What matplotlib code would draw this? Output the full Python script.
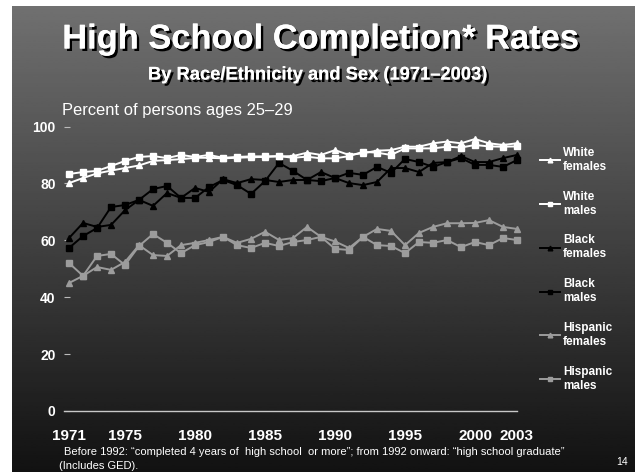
import matplotlib
matplotlib.use('Agg')
import matplotlib.pyplot as plt
import matplotlib.patheffects as pe
import numpy as np

plt.rcParams['font.family'] = ['Liberation Sans', 'DejaVu Sans']

# data (percent of persons ages 25-29)
years = list(range(1971, 2004))
white_females = [80.1, 81.9, 83.5, 84.5, 85.4, 86.3, 87.9, 88.2, 88.5, 89.0,
                 89.0, 88.8, 89.0, 89.2, 89.3, 89.5, 89.6, 90.8, 90.0, 91.7,
                 90.0, 90.6, 91.5, 91.7, 92.9, 92.9, 94.1, 94.7, 94.1, 95.6,
                 94.1, 93.5, 94.1]
white_males = [83.3, 84.0, 84.4, 86.1, 87.9, 89.3, 89.6, 88.9, 90.0, 89.3,
               90.0, 89.0, 89.3, 89.5, 89.5, 89.6, 89.0, 89.4, 88.8, 88.8,
               89.6, 91.1, 90.8, 90.0, 92.3, 92.3, 92.3, 92.9, 92.6, 93.5,
               93.0, 92.9, 93.0]
black_females = [60.8, 66.1, 64.7, 65.4, 70.6, 74.2, 72.1, 76.6, 74.9, 78.4,
                 77.0, 81.5, 80.1, 81.5, 81.2, 80.5, 81.2, 81.2, 84.0, 81.9,
                 80.1, 79.4, 80.5, 85.4, 85.4, 84.0, 87.2, 87.5, 89.6, 87.5,
                 87.5, 88.9, 90.0]
black_males = [57.3, 61.5, 64.3, 71.7, 72.4, 74.2, 78.0, 79.1, 74.9, 74.9,
               78.7, 81.2, 79.4, 76.3, 80.8, 87.2, 84.4, 81.2, 80.8, 81.9,
               83.7, 83.0, 85.8, 83.7, 88.6, 87.5, 85.8, 87.5, 88.9, 86.5,
               86.5, 85.8, 88.2]
hispanic_females = [45.0, 47.5, 50.6, 49.6, 52.4, 58.3, 54.8, 54.5, 58.3, 59.1,
                    60.1, 61.2, 59.1, 60.5, 63.0, 60.1, 60.8, 64.7, 61.2, 59.6,
                    57.3, 61.2, 64.0, 63.3, 58.3, 62.6, 64.7, 66.0, 66.0, 66.1,
                    67.1, 64.7, 64.0]
hispanic_males = [52.0, 47.5, 54.5, 55.2, 51.3, 58.0, 62.2, 59.1, 55.5, 58.3,
                  59.4, 61.2, 58.3, 57.3, 59.1, 58.0, 59.4, 60.1, 61.2, 57.0,
                  56.6, 61.2, 58.3, 58.0, 55.5, 59.4, 59.1, 60.1, 57.6, 59.4,
                  58.3, 60.8, 60.1]
x_ticks = [1971, 1975, 1980, 1985, 1990, 1995, 2000, 2003]
y_ticks = [0, 20, 40, 60, 80, 100]

series = [
    ('White\nfemales', white_females, '#ffffff', '^'),
    ('White\nmales', white_males, '#ffffff', 's'),
    ('Black\nfemales', black_females, '#000000', '^'),
    ('Black\nmales', black_males, '#000000', 's'),
    ('Hispanic\nfemales', hispanic_females, '#9c9c9c', '^'),
    ('Hispanic\nmales', hispanic_males, '#9c9c9c', 's'),
]

W, H = 635, 472
fig = plt.figure(figsize=(W / 100, H / 100), dpi=100, facecolor='white')

# gradient background (white strip left and top like the slide capture)
bg = fig.add_axes([12 / W, 0, 1 - 12 / W, 1 - 6 / H])
grad = np.linspace(0.44, 0.07, 256).reshape(-1, 1)
bg.imshow(grad, aspect='auto', cmap='gray', vmin=0, vmax=1,
          extent=[0, 1, 0, 1])
bg.set_axis_off()

ax = fig.add_axes([64 / W, 1 - 411 / H, (517 - 64) / W, (411 - 126.5) / H])
ax.set_facecolor('none')

for label, vals, col, mk in series[::-1]:
    ax.plot(years, vals, color=col, marker=mk, markersize=4.2, lw=1.4,
            label=label, clip_on=False)

ax.set_xlim(1970.64, 2003)
ax.set_ylim(0, 100)
ax.set_xticks(x_ticks)
ax.set_yticks(y_ticks)
for s in ['top', 'right', 'left']:
    ax.spines[s].set_visible(False)
ax.spines['bottom'].set_color('#c8c8c8')
ax.spines['bottom'].set_linewidth(1.0)
ax.tick_params(axis='x', length=0, pad=13, labelsize=11, labelcolor='white')
ax.tick_params(axis='y', direction='in', length=4, width=0.8, color='#bbbbbb',
               pad=6, labelsize=10, labelcolor='white')
for t in ax.get_xticklabels() + ax.get_yticklabels():
    t.set_fontweight('bold')

# legend on the right, same order as the chart
handles, labels = ax.get_legend_handles_labels()
leg = fig.legend(handles[::-1], labels[::-1], loc='upper left',
                 bbox_to_anchor=(540 / W, 1 - 147 / H), frameon=False,
                 fontsize=8.5, labelcolor='white', handlelength=1.7,
                 handletextpad=0.25, labelspacing=1.52, borderpad=0,
                 borderaxespad=0, markerscale=0.8)
for t in leg.get_texts():
    t.set_fontweight('bold')

shadow = [pe.withSimplePatchShadow(offset=(1.8, -1.8), shadow_rgbFace='black',
                                   alpha=1.0), pe.Normal()]
fig.text(321 / W, 1 - 40 / H, 'High School Completion* Rates', ha='center',
         va='center', fontsize=24.8, fontweight='bold', color='white',
         path_effects=shadow)
fig.text(318 / W, 1 - 75 / H, 'By Race/Ethnicity and Sex (1971\u20132003)',
         ha='center', va='center', fontsize=13.2, fontweight='bold',
         color='white', path_effects=shadow)
fig.text(62 / W, 1 - 110 / H, 'Percent of persons ages 25\u201329', ha='left',
         va='center', fontsize=11.9, color='white')

fig.text(64 / W, 1 - 452 / H,
         'Before 1992: \u201ccompleted 4 years of  high school  or more\u201d; '
         'from 1992 onward: \u201chigh school graduate\u201d',
         ha='left', va='center', fontsize=8, color='white')
fig.text(59 / W, 1 - 466 / H, '(Includes GED).', ha='left', va='center',
         fontsize=8, color='white')
fig.text(622 / W, 1 - 462 / H, '14', ha='center', va='center', fontsize=7.5,
         color='white')

fig.savefig('out.png', dpi=100, facecolor=fig.get_facecolor())
